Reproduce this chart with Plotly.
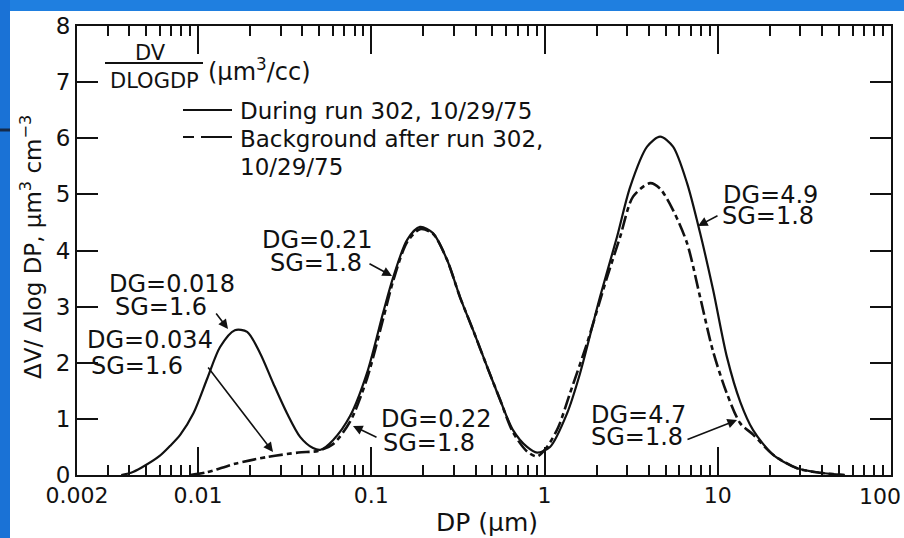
import plotly.graph_objects as go

# ---------------- data ----------------
dp_during = [0.0036, 0.0041, 0.0047, 0.0060, 0.0069, 0.0079, 0.0094, 0.0113, 0.0134, 0.0163, 0.0192,
             0.0228, 0.0271, 0.0326, 0.0388, 0.0461, 0.0510, 0.0601, 0.0754, 0.0945, 0.117,
             0.134, 0.161, 0.191, 0.227, 0.274, 0.325, 0.387, 0.466, 0.554, 0.658,
             0.793, 0.906, 1.076, 1.35, 1.60, 2.09, 2.62, 3.12, 3.91, 4.65,
             5.52, 6.65, 7.91, 9.40, 11.3, 13.5, 16.0, 20.9, 28.7, 39.0, 54.0]
dv_during = [0.0, 0.04, 0.13, 0.34, 0.52, 0.72, 1.10, 1.72, 2.28, 2.58, 2.55,
             2.17, 1.64, 1.10, 0.68, 0.48, 0.45, 0.62, 1.05, 1.82, 2.89,
             3.53, 4.19, 4.42, 4.31, 3.83, 3.17, 2.58, 1.93, 1.34, 0.80,
             0.50, 0.40, 0.50, 1.10, 1.80, 3.17, 4.24, 5.13, 5.85, 6.03,
             5.85, 5.20, 4.31, 3.30, 2.10, 1.30, 0.80, 0.36, 0.12, 0.04, 0.0]

dp_background = [0.0090, 0.0113, 0.0163, 0.0250, 0.0380, 0.0493, 0.0601, 0.0754, 0.0945, 0.117,
                 0.134, 0.161, 0.191, 0.227, 0.274, 0.325, 0.387, 0.466, 0.554, 0.658,
                 0.793, 0.906, 1.034, 1.20, 1.404, 1.761, 2.30, 2.73, 3.245, 4.07,
                 4.65, 5.52, 6.65, 7.91, 9.40, 11.3, 13.5, 16.0, 20.9, 28.7, 39.0, 54.0]
dv_background = [0.0, 0.05, 0.20, 0.32, 0.40, 0.43, 0.55, 0.95, 1.72, 2.78,
                 3.47, 4.15, 4.38, 4.30, 3.83, 3.17, 2.58, 1.93, 1.34, 0.76,
                 0.42, 0.33, 0.50, 0.85, 1.46, 2.35, 3.53, 4.24, 4.96, 5.20,
                 5.10, 4.72, 4.13, 3.17, 2.20, 1.45, 0.92, 0.72, 0.36, 0.12, 0.04, 0.0]

x_tickvals = [0.002, 0.01, 0.1, 1, 10, 100]
x_ticktext = ["0.002", "0.01", "0.1", "1", "10", ""]
x_last_label = "100"
x_minor = [m * 10.0 ** e for e in range(-3, 2) for m in range(2, 10)
           if 0.0025 < m * 10.0 ** e < 100]
y_tickvals = [0, 1, 2, 3, 4, 5, 6, 7, 8]

series_names = ["During run 302, 10/29/75", "Background after run 302, 10/29/75"]

mode_labels = [("DG=0.018", 172, 284), ("SG=1.6", 161, 307),
               ("DG=0.034", 150, 340), ("SG=1.6", 137, 366),
               ("DG=0.21", 317, 240), ("SG=1.8", 316, 263),
               ("DG=0.22", 436, 419), ("SG=1.8", 429, 443),
               ("DG=4.9", 770, 195), ("SG=1.8", 768, 216),
               ("DG=4.7", 638, 415), ("SG=1.8", 637, 437)]
# arrows: (tail_px, tail_py, head_px, head_py)
mode_arrows = [(215, 312, 228, 329), (207, 366, 273, 452), (368, 263, 392, 276),
               (378, 438, 353, 426), (719, 215, 698, 226), (686, 440, 737, 420)]

# ---------------- layout geometry ----------------
W, H = 904, 538
L, R, T, B = 77, 891, 26, 475
FONT = "DejaVu Sans, Verdana, sans-serif"
INK = "#111111"


def px(xp):
    return (xp - L) / (R - L)


def py(yp):
    return (B - yp) / (B - T)


def label(text, x, y, size, xanchor="center", angle=0):
    return dict(text=text, x=px(x), y=py(y), xref="paper", yref="paper",
                xanchor=xanchor, yanchor="middle", textangle=angle, showarrow=False,
                font=dict(size=size, family=FONT, color=INK))


fig = go.Figure()
fig.add_trace(go.Scatter(x=dp_during, y=dv_during, mode="lines", name=series_names[0],
                         line=dict(color=INK, width=2.2, shape="spline", smoothing=0.8),
                         showlegend=False))
fig.add_trace(go.Scatter(x=dp_background, y=dv_background, mode="lines", name=series_names[1],
                         line=dict(color=INK, width=2.6, shape="spline", smoothing=0.8,
                                   dash="14px,4px,5px,4px"),
                         showlegend=False))

shapes = []
annotations = []

# blue slide frame (top and left bands)
BLUE = "#1f7fe0"
shapes.append(dict(type="rect", xref="paper", yref="paper", x0=px(0), x1=px(W),
                   y0=py(11), y1=py(0), fillcolor=BLUE, line=dict(width=0), layer="above"))
shapes.append(dict(type="rect", xref="paper", yref="paper", x0=px(0), x1=px(10),
                   y0=py(H), y1=py(0), fillcolor="#1a72d6", line=dict(width=0), layer="above"))
shapes.append(dict(type="line", xref="paper", yref="paper", x0=px(0), x1=px(10),
                   y0=py(130), y1=py(130), line=dict(color="#152a4a", width=3), layer="above"))

# legend block: fraction header
annotations.append(label("DV", 150, 53, 21))
annotations.append(label("DLOGDP", 154, 81, 21))
shapes.append(dict(type="line", xref="paper", yref="paper", x0=px(105), x1=px(203),
                   y0=py(63), y1=py(63), line=dict(color=INK, width=2)))
annotations.append(label("(μm<sup>3</sup>/cc)", 206, 70, 24, xanchor="left"))
# legend entries
shapes.append(dict(type="line", xref="paper", yref="paper", x0=px(183), x1=px(232),
                   y0=py(110), y1=py(110), line=dict(color=INK, width=2)))
shapes.append(dict(type="line", xref="paper", yref="paper", x0=px(183), x1=px(194),
                   y0=py(137), y1=py(137), line=dict(color=INK, width=2)))
shapes.append(dict(type="line", xref="paper", yref="paper", x0=px(201), x1=px(232),
                   y0=py(137), y1=py(137), line=dict(color=INK, width=2)))
annotations.append(label(series_names[0], 238, 111, 23, xanchor="left"))
annotations.append(label("Background after run 302,", 238, 139, 23, xanchor="left"))
annotations.append(label("10/29/75", 238, 167, 23, xanchor="left"))

# mode labels and arrows
for txt, xx, yy in mode_labels:
    annotations.append(label(txt, xx, yy, 24))
for tx, ty, hx, hy in mode_arrows:
    annotations.append(dict(text="", x=px(hx), y=py(hy), xref="paper", yref="paper",
                            ax=tx - hx, ay=ty - hy, showarrow=True, arrowhead=2,
                            arrowsize=1.2, arrowwidth=1.6, arrowcolor=INK))

# last x tick label (the reference draws it just left of the right edge)
annotations.append(label(x_last_label, 880, 496, 22))

# axis titles
annotations.append(label("DP (μm)", 487, 522, 25))
annotations.append(label("ΔV/ Δlog DP, μm<sup>3</sup> cm<sup>−3</sup>", 31, 247, 23, angle=-90))

fig.update_layout(
    width=W, height=H,
    margin=dict(l=L, r=W - R, t=T, b=H - B),
    paper_bgcolor="white", plot_bgcolor="white",
    shapes=shapes, annotations=annotations,
    font=dict(family=FONT, color=INK),
    xaxis=dict(type="log", range=[-2.69897, 2.0002], showgrid=False, zeroline=False,
               showline=True, linecolor=INK, linewidth=2, mirror="ticks",
               ticks="inside", ticklen=28, tickwidth=2, tickcolor=INK,
               tickmode="array", tickvals=x_tickvals, ticktext=x_ticktext,
               tickfont=dict(size=22, family=FONT, color=INK),
               minor=dict(tickmode="array", tickvals=x_minor, ticks="inside",
                          ticklen=10, tickwidth=2, tickcolor=INK, showgrid=False)),
    yaxis=dict(range=[0, 8], showgrid=False, zeroline=False,
               showline=True, linecolor=INK, linewidth=2, mirror="ticks",
               ticks="inside", ticklen=21, tickwidth=2, tickcolor=INK,
               tickmode="array", tickvals=y_tickvals,
               tickfont=dict(size=23, family=FONT, color=INK)),
)

fig.write_html("out.html")
